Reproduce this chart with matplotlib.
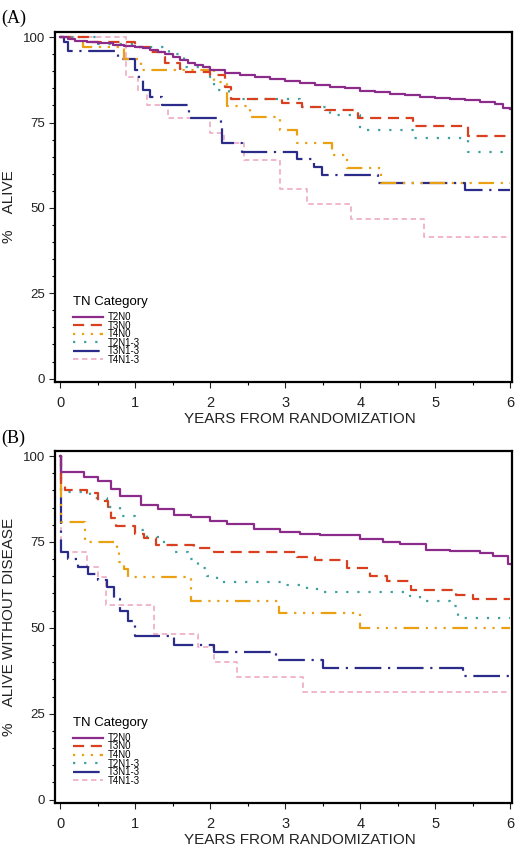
import matplotlib
matplotlib.use('Agg')
import matplotlib.pyplot as plt
from matplotlib.ticker import MultipleLocator

plt.rcParams['font.family'] = ['Liberation Sans', 'DejaVu Sans']

groups = ['T2N0', 'T3N0', 'T4N0', 'T2N1-3', 'T3N1-3', 'T4N1-3']
colors = ['#8b2c8b', '#d8401f', '#e9a012', '#3f9e9e', '#2b2b8a', '#efb0c8']
styles = ['-', (0, (5, 3)), (0, (1, 3, 1, 3, 1, 3, 7, 3)), (0, (1, 4)),
          (0, (12, 3, 1, 3)), (0, (3, 2))]
widths = [1.6, 1.6, 1.6, 1.6, 1.6, 1.3]

# (A) overall survival
a_t2n0_t = [0, 0.1, 0.2, 0.35, 0.5, 0.7, 0.85, 1.0, 1.1, 1.2, 1.3, 1.4, 1.5, 1.6, 1.7, 1.8, 1.9, 2.0,
            2.2, 2.4, 2.6, 2.8, 3.0, 3.2, 3.4, 3.6, 3.8, 4.0, 4.2, 4.4, 4.6, 4.8, 5.0, 5.2, 5.4,
            5.6, 5.8, 5.9, 6.0]
a_t2n0_s = [100, 99.5, 99, 98.5, 98.2, 97.8, 97.5, 97.2, 96.8, 96.3, 95.7, 95, 94.3, 93.2, 92.5, 91.8,
            91.2, 90.5, 89.5, 89, 88.4, 87.8, 87.3, 86.6, 86, 85.5, 85, 84.3, 83.8, 83.4, 83, 82.6,
            82.2, 81.8, 81.5, 81, 80.5, 79.3, 79]
a_t3n0_t = [0, 0.4, 1.0, 1.2, 1.35, 1.4, 1.6, 1.65, 2.0, 2.2, 2.27, 2.95, 3.22, 3.53, 3.97, 4.7, 5.43, 6.0]
a_t3n0_s = [100, 98.5, 97, 95.7, 94.2, 92.3, 90.8, 89.7, 88.9, 85.5, 82, 80.8, 79.6, 78.7, 76.2, 74, 71.1, 71.1]
a_t4n0_t = [0, 0.3, 0.85, 1.07, 2.05, 2.22, 2.53, 2.93, 3.16, 3.62, 3.82, 4.28, 6.0]
a_t4n0_s = [100, 97, 93.5, 90.4, 86.9, 79.8, 76.5, 72.8, 69.1, 65.5, 61.6, 57.4, 57.4]
a_t2n13_t = [0, 0.5, 1.0, 1.45, 1.65, 2.0, 2.05, 2.25, 3.2, 3.6, 4.0, 4.7, 5.43, 6.0]
a_t2n13_s = [100, 98, 97, 95.2, 91.3, 88.4, 84.5, 82, 79.6, 77.2, 72.8, 70.6, 66.5, 66.5]
a_t3n13_t = [0, 0.05, 0.1, 0.77, 0.99, 1.05, 1.1, 1.2, 1.35, 1.72, 2.14, 2.16, 2.42, 3.15, 3.38,
             3.49, 4.24, 5.39, 6.0]
a_t3n13_s = [100, 98.6, 95.9, 93.5, 90.4, 87.4, 84.5, 82.5, 80.1, 76.2, 73.3, 69, 66.5, 64.2, 62.1,
             59.6, 57.4, 55.1, 55.1]
a_t4n13_t = [0, 0.88, 1.03, 1.16, 1.43, 2.0, 2.18, 2.45, 2.93, 3.29, 3.88, 4.85, 6.0]
a_t4n13_s = [100, 88.4, 84.5, 80, 76.4, 71.8, 69, 64, 55.4, 51.2, 46.8, 41.6, 41.6]

# (B) disease-free survival
b_t2n0_t = [0, 0.01, 0.32, 0.5, 0.68, 0.79, 1.07, 1.3, 1.52, 1.74, 2.0, 2.22, 2.58, 2.93, 3.2, 3.46,
            4.0, 4.3, 4.53, 4.88, 5.2, 5.6, 5.77, 5.97, 6.0]
b_t2n0_s = [100, 95.4, 93.8, 92.8, 90.4, 88.5, 85.7, 84.5, 83, 82.4, 81.2, 80.1, 78.8, 77.9, 77.4,
            76.9, 75.9, 75, 74.3, 72.8, 72.3, 71.8, 70.8, 68.7, 68.7]
b_t3n0_t = [0, 0.01, 0.06, 0.36, 0.5, 0.64, 0.68, 0.74, 0.99, 1.12, 1.28, 1.78, 2.05, 3.16, 3.4,
            3.82, 4.13, 4.35, 4.68, 5.28, 5.5, 6.0]
b_t3n0_s = [100, 91.3, 90.1, 89.4, 87, 85.1, 82.1, 79.6, 77.2, 76.2, 74, 73.3, 72, 70.6, 69.7,
            67.5, 65, 63.5, 61.1, 59.6, 58.4, 58.4]
b_t4n0_t = [0, 0.01, 0.33, 0.76, 0.78, 0.85, 0.9, 1.74, 2.91, 4.0, 6.0]
b_t4n0_s = [100, 80.8, 74.9, 72, 69.2, 67.2, 64.9, 57.9, 54.3, 49.9, 49.9]
b_t2n13_t = [0, 0.01, 0.4, 0.62, 0.8, 0.99, 1.16, 1.38, 1.52, 1.7, 1.83, 1.96, 2.09, 2.98, 3.29,
             3.51, 4.66, 4.79, 5.19, 5.3, 6.0]
b_t2n13_s = [100, 89.6, 87.7, 85.1, 82.6, 78.6, 76.4, 74, 72, 70, 67.3, 65.2, 63.4, 62.4, 61.4,
             60.5, 59.2, 57.9, 56.3, 52.8, 52.8]
b_t3n13_t = [0, 0.01, 0.1, 0.23, 0.37, 0.5, 0.62, 0.72, 0.8, 0.9, 0.99, 1.0, 1.52, 2.05, 2.87,
             3.5, 5.37, 6.0]
b_t3n13_s = [100, 72, 69.9, 67.7, 65.8, 64, 62, 58.5, 54.8, 51.9, 50, 47.5, 45, 43.1, 40.7, 38.4,
             36.1, 36.1]
b_t4n13_t = [0, 0.01, 0.35, 0.5, 0.61, 1.25, 1.83, 2.05, 2.36, 3.23, 6.0]
b_t4n13_s = [100, 72.2, 67.7, 64.8, 56.7, 48.3, 44.5, 40.1, 35.8, 31.4, 31.4]

panels = [
    ('(A)', '%    ALIVE', [(a_t2n0_t, a_t2n0_s), (a_t3n0_t, a_t3n0_s), (a_t4n0_t, a_t4n0_s),
                           (a_t2n13_t, a_t2n13_s), (a_t3n13_t, a_t3n13_s), (a_t4n13_t, a_t4n13_s)]),
    ('(B)', '%    ALIVE WITHOUT DISEASE',
     [(b_t2n0_t, b_t2n0_s), (b_t3n0_t, b_t3n0_s), (b_t4n0_t, b_t4n0_s),
      (b_t2n13_t, b_t2n13_s), (b_t3n13_t, b_t3n13_s), (b_t4n13_t, b_t4n13_s)]),
]

fig = plt.figure(figsize=(5.25, 8.52), dpi=100)
boxes = [[0.105, 0.5516, 0.870, 0.4108], [0.105, 0.0575, 0.870, 0.4132]]
tags_y = [0.978, 0.485]

for (tag, ylab, series), box, ty in zip(panels, boxes, tags_y):
    ax = fig.add_axes(box)
    # draw the T4N1-3 ... T2N0 lines back to front
    for i in reversed(range(len(groups))):
        t, s = series[i]
        ax.step(t, s, where='post', color=colors[i], linestyle=styles[i],
                linewidth=widths[i], label=groups[i])
    ax.set_xlim(-0.07, 6.02)
    ax.set_ylim(-1, 101.5)
    ax.xaxis.set_major_locator(MultipleLocator(1))
    ax.xaxis.set_minor_locator(MultipleLocator(0.5))
    ax.yaxis.set_major_locator(MultipleLocator(25))
    ax.yaxis.set_minor_locator(MultipleLocator(5))
    ax.tick_params(which='both', direction='out', width=0.8)
    ax.tick_params(which='major', length=4, labelsize=9.5, colors='#222222')
    ax.tick_params(axis='x', which='major', labelsize=10.5)
    ax.tick_params(which='minor', length=2.5)
    ax.tick_params(axis='x', pad=6)
    for sp in ax.spines.values():
        sp.set_linewidth(1.6)
    ax.set_xlabel('YEARS FROM RANDOMIZATION', fontsize=11, color='#222222')
    ax.xaxis.set_label_coords(0.535, -0.085)
    ax.set_ylabel(ylab, fontsize=11, color='#222222')
    ax.yaxis.set_label_coords(-0.085, 0.5)
    h, l = ax.get_legend_handles_labels()
    leg = ax.legend(h[::-1], l[::-1], title='TN Category', loc='lower left',
                    bbox_to_anchor=(0.025, 0.03), frameon=False, fontsize=7,
                    title_fontsize=9.5, labelspacing=-0.15, handlelength=3.0,
                    handletextpad=0.5, borderpad=0.2)
    leg._legend_box.align = 'left'
    leg._legend_box.sep = 3
    fig.text(0.003, ty, tag, fontsize=13, family=['Liberation Serif', 'DejaVu Serif'],
             va='center', ha='left')

fig.savefig('out.png', dpi=100)
